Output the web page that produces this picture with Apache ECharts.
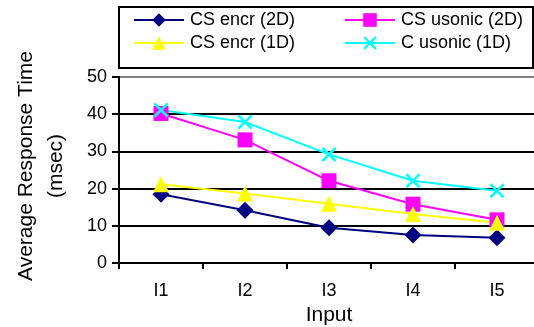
<!DOCTYPE html>
<html><head><meta charset="utf-8">
<script src="https://cdn.jsdelivr.net/npm/echarts@6/dist/echarts.min.js"></script>
<style>html,body{margin:0;padding:0;background:#fff}#c{width:534px;height:327px}</style>
</head><body><div id="c"></div>
<script>
const categories = ['I1','I2','I3','I4','I5'];
const csEncr2D = [18.5, 14.2, 9.5, 7.5, 6.8];
const csUsonic2D = [40.2, 33.1, 22.1, 15.8, 11.6];
const csEncr1D = [21.2, 18.7, 15.9, 13.2, 10.8];
const cUsonic1D = [41.1, 37.9, 29.2, 22.1, 19.4];
const yTicks = [0, 10, 20, 30, 40, 50];

const xPath = 'path://M0,1.2L1.2,0L5,3.8L8.8,0L10,1.2L6.2,5L10,8.8L8.8,10L5,6.2L1.2,10L0,8.8L3.8,5Z';
const font = 'Liberation Sans, Arial, sans-serif';

function mk(name, data, color, symbol, size) {
  return {
    name, type: 'line', data, symbol, symbolSize: size,
    lineStyle: { color, width: 2 },
    itemStyle: { color },
    animation: false
  };
}
const series = [
  mk('CS encr (2D)', csEncr2D, '#000080', 'diamond', 17),
  mk('CS usonic (2D)', csUsonic2D, '#FF00FF', 'rect', 15),
  mk('CS encr (1D)', csEncr1D, '#FFFF00', 'triangle', 16),
  mk('C usonic (1D)', cUsonic1D, '#00FFFF', xPath, 15)
];
function leg(name, left, top) {
  return { data: [name], left, top, itemWidth: 50, itemHeight: 17, itemGap: 0,
    textStyle: { fontFamily: font, fontSize: 18, color: '#000', padding: [0,0,0,1] }, padding: 0 };
}
const chart = echarts.init(document.getElementById('c'), null, { renderer: 'canvas' });
chart.setOption({
  backgroundColor: '#fff',
  animation: false,
  graphic: [{ type: 'rect', shape: { x: 119, y: 7, width: 414, height: 61 },
    style: { fill: 'none', stroke: '#000', lineWidth: 2 }, z: 100 }],
  legend: [
    leg('CS encr (2D)', 133, 11),
    leg('CS usonic (2D)', 344, 11),
    leg('CS encr (1D)', 133, 34),
    leg('C usonic (1D)', 344, 34)
  ],
  grid: { left: 119, top: 77, width: 420, height: 186, containLabel: false, outerBoundsMode: 'none' },
  xAxis: {
    type: 'category', data: categories, boundaryGap: true,
    axisLine: { lineStyle: { color: '#000', width: 2 } },
    axisTick: { show: true, length: 6, lineStyle: { color: '#000', width: 2 } },
    axisLabel: { fontFamily: font, fontSize: 18, color: '#000', margin: 19 },
    name: 'Input', nameLocation: 'middle', nameGap: 42,
    nameTextStyle: { fontFamily: font, fontSize: 21, color: '#000' }
  },
  yAxis: {
    type: 'value', min: yTicks[0], max: yTicks[yTicks.length-1], interval: 10,
    axisLine: { show: true, lineStyle: { color: '#000', width: 2 } },
    axisTick: { show: true, length: 7, lineStyle: { color: '#000', width: 2 } },
    axisLabel: { fontFamily: font, fontSize: 18, color: '#000', margin: 12 },
    splitLine: { show: true, lineStyle: { color: ['#000','#000','#000','#000','#000','#808080'], width: 2 } },
    name: 'Average Response Time\n(msec)', nameLocation: 'middle', nameGap: 48, nameRotate: 90,
    nameTextStyle: { fontFamily: font, fontSize: 21, color: '#000', lineHeight: 30, padding: [0, 0, 0, 8] }
  },
  series
});
</script></body></html>
